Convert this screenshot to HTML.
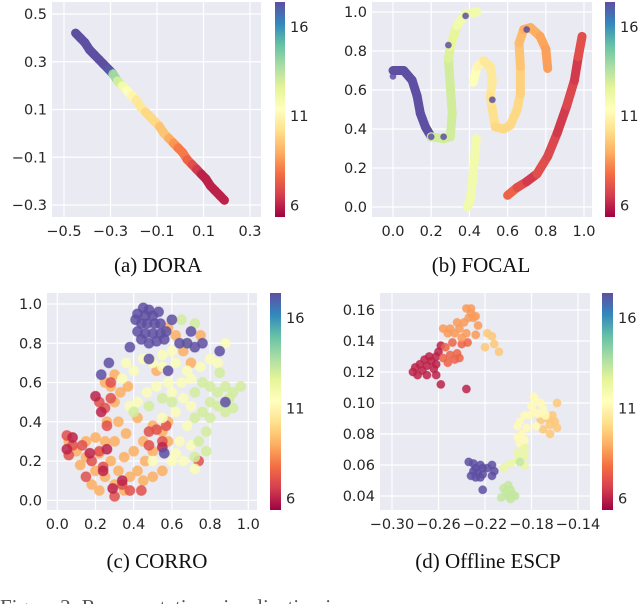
<!DOCTYPE html>
<html><head><meta charset="utf-8">
<style>
html,body{margin:0;padding:0;background:#fff;width:640px;height:604px;overflow:hidden}
svg{display:block}
.tk{font-family:"DejaVu Sans","Liberation Sans",sans-serif;font-size:14.5px;fill:#262626}
.cap{font-family:"Liberation Serif",serif;font-size:21px;fill:#111}
</style></head>
<body>
<svg id="fig" width="640" height="604" viewBox="0 0 640 604" xmlns="http://www.w3.org/2000/svg">
<defs>
<linearGradient id="spec" x1="0" y1="1" x2="0" y2="0">
<stop offset="0" stop-color="#9e0142"/><stop offset="0.1" stop-color="#d53e4f"/><stop offset="0.2" stop-color="#f46d43"/><stop offset="0.3" stop-color="#fdae61"/><stop offset="0.4" stop-color="#fee08b"/><stop offset="0.5" stop-color="#ffffbf"/><stop offset="0.6" stop-color="#e6f598"/><stop offset="0.7" stop-color="#abdda4"/><stop offset="0.8" stop-color="#66c2a5"/><stop offset="0.9" stop-color="#3288bd"/><stop offset="1" stop-color="#5e4fa2"/>
</linearGradient>
</defs>
<text class="cap" x="158" y="272" text-anchor="middle">(a) DORA</text>
<text class="cap" x="481" y="272" text-anchor="middle">(b) FOCAL</text>
<text class="cap" x="157" y="568" text-anchor="middle">(c) CORRO</text>
<text class="cap" x="488" y="568" text-anchor="middle">(d) Offline ESCP</text>
<text class="cap" x="0" y="614" style="fill:#555">Figure 3: Representation visualization in</text>
</svg>
<script>
// ---- DORA data ----
const doraX=[-0.45,-0.43,-0.41,-0.39,-0.37,-0.35,-0.33,-0.31,-0.29,-0.27,-0.25,-0.23,-0.21,-0.19,-0.17,-0.15,-0.13,-0.11,-0.09,-0.07,-0.05,-0.03,-0.01,0.01,0.03,0.05,0.07,0.09,0.11,0.13,0.15,0.17,0.19];
const doraY=[0.42,0.40,0.38,0.35,0.33,0.31,0.29,0.27,0.25,0.22,0.20,0.18,0.16,0.14,0.11,0.09,0.07,0.05,0.03,0.00,-0.02,-0.04,-0.06,-0.08,-0.11,-0.13,-0.15,-0.17,-0.19,-0.22,-0.24,-0.26,-0.28];
const doraC=[17.4,17.4,17.4,17.4,17.4,17.4,17.4,17.2,14,13,12,11.5,11,10.5,10.5,10,10,10,9.5,9.5,9,8.5,8,8,7.5,7,6.5,6,6,6,6,6,6];
// ---- FOCAL curves ----
const focalPurpleX=[0,0.056,0.10,0.126,0.143,0.17,0.20];
const focalPurpleY=[0.70,0.70,0.65,0.57,0.48,0.41,0.36];
const focalGreenX=[0.20,0.265,0.30,0.31,0.30,0.29,0.30,0.335,0.38,0.44];
const focalGreenY=[0.36,0.35,0.36,0.48,0.62,0.76,0.82,0.93,0.99,1.0];
const focalGreenC=[13,13,13,13,13,12.8,12.5,12,12,12];
const focalStemX=[0.39,0.405,0.42,0.436];
const focalStemY=[0.0,0.04,0.17,0.35];
const focalSX=[0.42,0.44,0.475,0.51,0.52,0.51,0.52,0.536,0.58,0.614,0.65,0.667,0.667,0.66,0.684,0.72,0.77,0.80,0.81];
const focalSY=[0.64,0.72,0.75,0.72,0.65,0.57,0.50,0.41,0.40,0.42,0.50,0.58,0.72,0.84,0.91,0.92,0.875,0.81,0.71];
const focalSC=[11.5,11,10.5,10.5,10.5,10.3,10.2,10,10,10,10,9.8,9.5,9.3,9,9,8.8,8.7,8.5];
const focalRedX=[0.60,0.65,0.70,0.754,0.81,0.86,0.91,0.95,0.97,0.99];
const focalRedY=[0.06,0.10,0.13,0.17,0.26,0.38,0.52,0.65,0.77,0.875];
const focalRedC=[7.5,7,6.5,7,6.8,6.5,6.8,6.5,7,8];
const focalStarX=[0.0,0.20,0.265,0.29,0.38,0.52,0.70];
const focalStarY=[0.67,0.36,0.36,0.83,0.98,0.55,0.91];
// ---- CORRO data ----
const corroPurple=[[0.42,0.95],[0.45,0.98],[0.48,0.97],[0.5,0.94],[0.44,0.9],[0.47,0.9],[0.51,0.9],[0.54,0.9],[0.42,0.86],[0.46,0.85],[0.5,0.85],[0.54,0.85],[0.57,0.86],[0.44,0.82],[0.48,0.8],[0.52,0.81],[0.56,0.82],[0.41,0.92],[0.53,0.96],[0.46,0.94],[0.38,0.78],[0.27,0.70],[0.23,0.64],[0.48,0.72],[0.58,0.66],[0.64,0.8],[0.68,0.8],[0.72,0.78],[0.76,0.8],[0.85,0.76],[0.6,0.92],[0.88,0.5],[0.56,0.24],[0.7,0.86]];
const corroGreen=[[0.72,0.55],[0.76,0.6],[0.8,0.58],[0.84,0.55],[0.88,0.58],[0.92,0.55],[0.96,0.58],[0.8,0.5],[0.84,0.48],[0.88,0.45],[0.92,0.47],[0.76,0.45],[0.8,0.42],[0.72,0.42],[0.78,0.35],[0.74,0.3],[0.78,0.25],[0.72,0.22],[0.68,0.8],[0.72,0.9],[0.65,0.92],[0.85,0.65],[0.9,0.52],[0.6,0.5],[0.55,0.52],[0.48,0.48],[0.4,0.45]];
const corroYellow=[[0.45,0.72],[0.5,0.7],[0.55,0.68],[0.62,0.7],[0.68,0.66],[0.65,0.6],[0.7,0.62],[0.58,0.6],[0.52,0.58],[0.47,0.55],[0.42,0.5],[0.38,0.48],[0.6,0.55],[0.66,0.52],[0.7,0.48],[0.62,0.45],[0.55,0.42],[0.68,0.38],[0.64,0.3],[0.7,0.28],[0.66,0.2],[0.6,0.2],[0.5,0.2],[0.4,0.66],[0.34,0.62],[0.36,0.7],[0.8,0.72],[0.75,0.68],[0.84,0.7],[0.88,0.8],[0.6,0.76],[0.55,0.74],[0.62,0.24],[0.72,0.16]];
const corroOrange=[[0.3,0.64],[0.28,0.58],[0.33,0.55],[0.25,0.6],[0.37,0.58],[0.3,0.5],[0.2,0.32],[0.15,0.3],[0.25,0.3],[0.1,0.25],[0.15,0.22],[0.22,0.24],[0.28,0.2],[0.2,0.15],[0.25,0.12],[0.3,0.08],[0.35,0.05],[0.38,0.12],[0.42,0.15],[0.45,0.1],[0.5,0.12],[0.55,0.15],[0.5,0.25],[0.45,0.3],[0.55,0.35],[0.5,0.38],[0.58,0.3],[0.4,0.25],[0.35,0.22],[0.3,0.3],[0.06,0.3],[0.12,0.18],[0.18,0.08],[0.22,0.05],[0.32,0.15],[0.26,0.4],[0.32,0.4],[0.62,0.84],[0.66,0.76],[0.75,0.84],[0.58,0.88],[0.7,0.7],[0.52,0.66],[0.42,0.42],[0.58,0.4],[0.36,0.34],[0.46,0.2]];
const corroRed=[[0.22,0.5],[0.25,0.47],[0.28,0.52],[0.05,0.33],[0.08,0.28],[0.13,0.28],[0.06,0.23],[0.18,0.2],[0.24,0.17],[0.3,0.02],[0.34,0.08],[0.38,0.05],[0.55,0.3],[0.52,0.36],[0.57,0.38],[0.48,0.35],[0.26,0.38],[0.22,0.25],[0.15,0.12],[0.44,0.05],[0.28,0.6],[0.74,0.2],[0.48,0.28]];
const corroDark=[[0.2,0.53],[0.23,0.45],[0.08,0.32],[0.05,0.26],[0.17,0.24],[0.26,0.26],[0.34,0.1],[0.29,0.06],[0.55,0.27],[0.24,0.15]];
// ---- ESCP data ----
const escpDark=[[-0.282,0.120],[-0.278,0.118],[-0.274,0.121],[-0.270,0.124],[-0.276,0.125],[-0.272,0.128],[-0.268,0.130],[-0.266,0.127],[-0.280,0.123],[-0.264,0.122],[-0.27,0.118],[-0.262,0.125],[-0.262,0.130],[-0.26,0.133],[-0.258,0.137],[-0.262,0.118],[-0.258,0.112],[-0.236,0.109]];
const escpRed=[[-0.256,0.129],[-0.25,0.131],[-0.246,0.128],[-0.252,0.126],[-0.254,0.136],[-0.248,0.139],[-0.244,0.132],[-0.242,0.129],[-0.24,0.138],[-0.235,0.139]];
const escpOrange=[[-0.252,0.145],[-0.256,0.148],[-0.25,0.148],[-0.246,0.145],[-0.242,0.148],[-0.244,0.152],[-0.24,0.142],[-0.236,0.145],[-0.238,0.152],[-0.234,0.155],[-0.232,0.158],[-0.23,0.155],[-0.228,0.156],[-0.236,0.161],[-0.232,0.161],[-0.226,0.150],[-0.228,0.144]];
const escpLight=[[-0.218,0.145],[-0.214,0.143],[-0.212,0.138],[-0.22,0.136],[-0.208,0.133],[-0.158,0.100],[-0.162,0.092],[-0.166,0.090],[-0.164,0.086],[-0.160,0.088],[-0.158,0.084],[-0.170,0.083],[-0.164,0.080],[-0.172,0.089]];
const escpYellow=[[-0.178,0.104],[-0.176,0.101],[-0.180,0.098],[-0.172,0.100],[-0.170,0.096],[-0.178,0.094],[-0.174,0.093],[-0.168,0.092],[-0.182,0.092],[-0.186,0.092],[-0.190,0.088],[-0.192,0.085],[-0.188,0.080],[-0.192,0.078],[-0.186,0.076],[-0.19,0.074],[-0.184,0.084],[-0.176,0.085]];
const escpYG=[[-0.186,0.071],[-0.192,0.068],[-0.186,0.066],[-0.192,0.063],[-0.198,0.061],[-0.204,0.058],[-0.186,0.060]];
const escpPurple=[[-0.234,0.062],[-0.230,0.061],[-0.228,0.058],[-0.224,0.060],[-0.222,0.058],[-0.226,0.055],[-0.23,0.056],[-0.222,0.054],[-0.218,0.058],[-0.214,0.060],[-0.212,0.056],[-0.214,0.053],[-0.228,0.052],[-0.232,0.053],[-0.224,0.052],[-0.222,0.044]];
const escpGreen=[[-0.204,0.045],[-0.200,0.047],[-0.198,0.044],[-0.202,0.042],[-0.196,0.041],[-0.200,0.040],[-0.194,0.040],[-0.206,0.039],[-0.198,0.038],[-0.19,0.062]];
// tick labels
const ticksAX=["−0.5","−0.3","−0.1","0.1","0.3"], ticksAXv=[-0.5,-0.3,-0.1,0.1,0.3];
const ticksAYv=[0.5,0.3,0.1,-0.1,-0.3], ticksAY=["0.5","0.3","0.1","−0.1","−0.3"];
const ticks01v=[0,0.2,0.4,0.6,0.8,1.0], ticks01=["0.0","0.2","0.4","0.6","0.8","1.0"];
const ticksDXv=[-0.30,-0.26,-0.22,-0.18,-0.14], ticksDX=["−0.30","−0.26","−0.22","−0.18","−0.14"];
const ticksDYv=[0.16,0.14,0.12,0.10,0.08,0.06,0.04], ticksDY=["0.16","0.14","0.12","0.10","0.08","0.06","0.04"];
const cbTicks=[16,11,6];

const NS="http://www.w3.org/2000/svg";
const svg=document.getElementById('fig');
const stops=["#9e0142","#d53e4f","#f46d43","#fdae61","#fee08b","#ffffbf","#e6f598","#abdda4","#66c2a5","#3288bd","#5e4fa2"];
const CMIN=5.35,CMAX=17.4;
function hx(h){return [parseInt(h.substr(1,2),16),parseInt(h.substr(3,2),16),parseInt(h.substr(5,2),16)];}
function cmap(c){let t=(c-CMIN)/(CMAX-CMIN);t=Math.max(0,Math.min(1,t));const f=t*10,i=Math.min(9,Math.floor(f)),u=f-i;const a=hx(stops[i]),b=hx(stops[i+1]);return `rgb(${a.map((v,k)=>Math.round(v+(b[k]-v)*u)).join(',')})`;}
function el(tag,attrs,parent){const e=document.createElementNS(NS,tag);for(const k in attrs)e.setAttribute(k,attrs[k]);(parent||svg).appendChild(e);return e;}
function lin(d0,d1,p0,p1){return v=>p0+(v-d0)*(p1-p0)/(d1-d0);}

function panel(id,r,sx,sy,xv,xl,yv,yl,cb){
  const g=el('g',{});
  
  
  const bg=el('rect',{x:r[0],y:r[1],width:r[2]-r[0],height:r[3]-r[1],fill:'#eaeaf2'},g);
  
  
  xv.forEach((v,i)=>{const x=sx(v);
    const l=el('line',{x1:x,x2:x,y1:r[1],y2:r[3],stroke:'#fff','stroke-width':1.2},g);
    
    
    const t=el('text',{x:x,y:r[3]+19,'text-anchor':'middle',class:'tk'},g);t.textContent=xl[i];
    
    });
  yv.forEach((v,i)=>{const y=sy(v);
    const l=el('line',{x1:r[0],x2:r[2],y1:y,y2:y,stroke:'#fff','stroke-width':1.2},g);
    
    
    const t=el('text',{x:r[0]-5,y:y+5,'text-anchor':'end',class:'tk'},g);t.textContent=yl[i];
    
    });
  const cbr=el('rect',{x:cb[0],y:r[1],width:cb[1]-cb[0],height:r[3]-r[1],fill:'url(#spec)'},g);
  
  
  const cs=lin(CMIN,CMAX,r[3],r[1]);
  cbTicks.forEach(v=>{const t=el('text',{x:cb[1]+5,y:cs(v)+5,class:'tk'},g);t.textContent=String(v);
    
    });
  return g;
}
function dot(g,x,y,c,r,name){const d=el('circle',{cx:x,cy:y,r:r,fill:cmap(c),'fill-opacity':0.85,stroke:cmap(c),'stroke-opacity':0.5,'stroke-width':1},g);
  
  }
function curve(g,xs,ys,cs,sx,sy,name){
  for(let i=0;i<xs.length-1;i++){const l=el('line',{x1:sx(xs[i]),y1:sy(ys[i]),x2:sx(xs[i+1]),y2:sy(ys[i+1]),stroke:cmap(cs[i]),'stroke-width':9,'stroke-linecap':'round'},g);
    
    }
}

// Panel a
{const r=[52,2,261,217];const sx=lin(-0.5,0.3,64,250),sy=lin(0.5,-0.3,14,205);
 const g=panel('dora',r,sx,sy,ticksAXv,ticksAX,ticksAYv,ticksAY,[275,285]);
 curve(g,doraX,doraY,doraC,sx,sy,'dora-embedding-line');
 doraX.forEach((x,i)=>dot(g,sx(x),sy(doraY[i]),doraC[i],4,'dora-point'));}
// Panel b
{const r=[372,2,592,217];const sx=lin(0,1,393,584),sy=lin(1,0,12,207);
 const g=panel('focal',r,sx,sy,ticks01v,ticks01,ticks01v,ticks01,[605,615]);
 curve(g,focalPurpleX,focalPurpleY,focalPurpleX.map(()=>17.4),sx,sy,'focal-purple-curve');
 curve(g,focalGreenX,focalGreenY,focalGreenC,sx,sy,'focal-green-curve');
 curve(g,focalStemX,focalStemY,focalStemX.map(()=>12),sx,sy,'focal-stem-curve');
 curve(g,focalSX,focalSY,focalSC,sx,sy,'focal-s-curve');
 curve(g,focalRedX,focalRedY,focalRedC,sx,sy,'focal-red-curve');
 focalStarX.forEach((x,i)=>dot(g,sx(x),sy(focalStarY[i]),17.4,3,'focal-star-point'));}
// Panel c
{const r=[47,293,257,510];const sx=lin(0,1,57.3,248.3),sy=lin(1,0,304,500.3);
 const g=panel('corro',r,sx,sy,ticks01v,ticks01,ticks01v,ticks01,[270,281]);
 [[corroOrange,9],[corroRed,7],[corroDark,6],[corroYellow,11.6],[corroGreen,13],[corroPurple,17.4]].forEach(([arr,c])=>arr.forEach(p=>dot(g,sx(p[0]),sy(p[1]),c,5,'corro-point')));}
// Panel d
{const r=[380,293,590,510];const sx=lin(-0.30,-0.14,392,578),sy=lin(0.16,0.04,310,496);
 const g=panel('escp',r,sx,sy,ticksDXv,ticksDX,ticksDYv,ticksDY,[602,613]);
 [[escpDark,6],[escpRed,7.5],[escpOrange,8.6],[escpLight,9.6],[escpYellow,11.2],[escpYG,12.3],[escpPurple,17.4],[escpGreen,13.3]].forEach(([arr,c])=>arr.forEach(p=>dot(g,sx(p[0]),sy(p[1]),c,4,'escp-point')));}
</script>
</body></html>
